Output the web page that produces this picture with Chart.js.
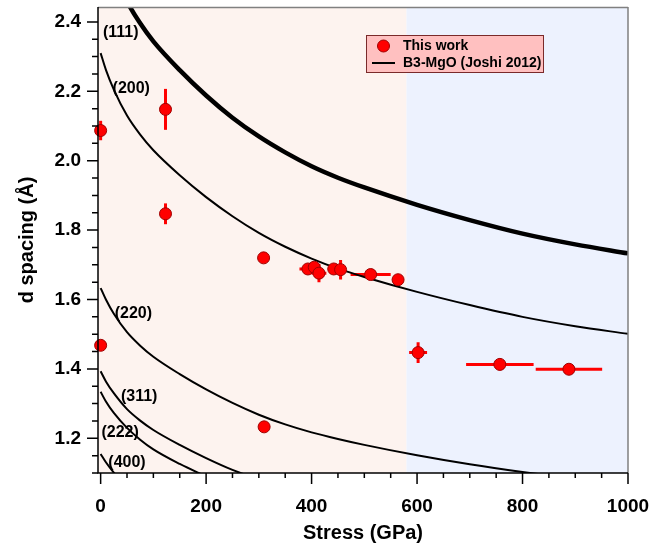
<!DOCTYPE html>
<html>
<head>
<meta charset="utf-8">
<script src="https://cdn.jsdelivr.net/npm/chart.js@4.4.1/dist/chart.umd.min.js"></script>
<style>
html, body { margin: 0; padding: 0; background: #fff; }
#wrap { width: 652px; height: 551px; }
</style>
</head>
<body>
<div id="wrap"><canvas id="chart" width="652" height="551"></canvas></div>
<script>
// this work: stress (GPa) vs d spacing (A), with error bars
var stress    = [0, 0, 123, 123, 309, 310, 393, 405, 414, 442, 455, 512, 564, 602, 757, 888];
var dSpacing  = [2.087, 1.468, 2.148, 1.847, 1.720, 1.233, 1.688, 1.693, 1.676, 1.688, 1.686, 1.672, 1.657, 1.447, 1.413, 1.399];
var stressErr = [0, 0, 0, 0, 0, 0, 16, 5, 14, 10, 8, 38, 0, 17, 64, 63];
var dErr      = [0.028, 0.008, 0.059, 0.03, 0, 0.008, 0, 0, 0.026, 0, 0.028, 0, 0, 0.03, 0.017, 0.01];

// B3-MgO (Joshi 2012) curves
var curveP = [0, 10, 25, 50, 75, 100, 150, 200, 250, 300, 350, 400, 450, 500, 600, 700, 800, 900, 1000];
var d111 = [2.667, 2.612, 2.546, 2.459, 2.396, 2.344, 2.261, 2.188, 2.124, 2.070, 2.024, 1.984, 1.951, 1.923, 1.873, 1.829, 1.790, 1.759, 1.733];
var d200 = [2.310, 2.262, 2.205, 2.130, 2.075, 2.030, 1.958, 1.895, 1.840, 1.792, 1.752, 1.718, 1.689, 1.665, 1.622, 1.584, 1.550, 1.523, 1.501];
var d220 = [1.633, 1.600, 1.559, 1.506, 1.467, 1.435, 1.385, 1.341, 1.302, 1.268, 1.240, 1.217, 1.198, 1.181, 1.151, 1.125, 1.103, 1.084, 1.067];
var d311 = [1.393, 1.364, 1.330, 1.284, 1.251, 1.224, 1.181, 1.143, 1.109, 1.081];
var d222 = [1.334, 1.306, 1.273, 1.230, 1.196, 1.168, 1.126, 1.090];
var d400 = [1.155, 1.131, 1.101, 1.062];

var curveNames = ["(111)", "(200)", "(220)", "(311)", "(222)", "(400)"];
// where each label sits, in data units (stress, d)
var labelP = [38, 58, 62, 73, 37, 50];
var labelD = [2.370, 2.209, 1.558, 1.321, 1.217, 1.130];

var xTicks = [0, 200, 400, 600, 800, 1000];
var yTicks = [1.2, 1.4, 1.6, 1.8, 2.0, 2.2, 2.4];
var phaseSplit = 580; // GPa, where the shading changes

var FONT = '"Liberation Sans", Arial, Helvetica, sans-serif';

function pts(xs, ys) {
    var out = [];
    for (var i = 0; i < ys.length; i++) out.push({x: xs[i], y: ys[i]});
    return out;
}

function curve(ys, w) {
    return {
        type: 'line',
        data: pts(curveP, ys),
        borderColor: '#000',
        borderWidth: w,
        pointRadius: 0,
        fill: false,
        cubicInterpolationMode: 'monotone',
        clip: 0
    };
}

var extras = {
    id: 'extras',
    beforeDraw: function(chart) {
        var a = chart.chartArea, ctx = chart.ctx;
        var xs = chart.scales.x.getPixelForValue(phaseSplit);
        ctx.save();
        ctx.fillStyle = '#fdf3ef';
        ctx.fillRect(a.left, a.top, xs - a.left, a.bottom - a.top);
        ctx.fillStyle = '#edf2fe';
        ctx.fillRect(xs, a.top, a.right - xs, a.bottom - a.top);
        ctx.restore();
    },
    beforeDatasetsDraw: function(chart) {
        // error bars
        var ctx = chart.ctx, sx = chart.scales.x, sy = chart.scales.y;
        ctx.save();
        ctx.strokeStyle = '#ff0000';
        ctx.lineWidth = 3;
        for (var i = 0; i < stress.length; i++) {
            var px = sx.getPixelForValue(stress[i]);
            var py = sy.getPixelForValue(dSpacing[i]);
            ctx.beginPath();
            if (stressErr[i] > 0) {
                ctx.moveTo(sx.getPixelForValue(stress[i] - stressErr[i]), py);
                ctx.lineTo(sx.getPixelForValue(stress[i] + stressErr[i]), py);
            }
            if (dErr[i] > 0) {
                ctx.moveTo(px, sy.getPixelForValue(dSpacing[i] - dErr[i]));
                ctx.lineTo(px, sy.getPixelForValue(dSpacing[i] + dErr[i]));
            }
            ctx.stroke();
        }
        ctx.restore();
    },
    afterDraw: function(chart) {
        var a = chart.chartArea, ctx = chart.ctx, sx = chart.scales.x, sy = chart.scales.y;
        ctx.save();
        // frame
        ctx.strokeStyle = '#808080';
        ctx.lineWidth = 1.5;
        ctx.beginPath();
        ctx.moveTo(a.left, a.top + 0.5); ctx.lineTo(a.right, a.top + 0.5);
        ctx.moveTo(a.right, a.top); ctx.lineTo(a.right, a.bottom);
        ctx.stroke();
        ctx.strokeStyle = '#000';
        ctx.beginPath();
        ctx.moveTo(a.left, a.top); ctx.lineTo(a.left, a.bottom);
        ctx.lineTo(a.right, a.bottom);
        ctx.stroke();

        // tick marks, outward
        ctx.lineWidth = 1.5;
        ctx.beginPath();
        var v, p, major;
        for (v = 0; v <= 1000; v += 50) {
            p = sx.getPixelForValue(v);
            major = v % 200 === 0;
            ctx.moveTo(p, a.bottom);
            ctx.lineTo(p, a.bottom + (major ? 11 : 5));
        }
        for (var k = 22; k <= 48; k++) {
            v = k * 0.05;
            p = sy.getPixelForValue(v);
            major = k % 4 === 0;
            ctx.moveTo(a.left, p);
            ctx.lineTo(a.left - (major ? 11 : 6), p);
        }
        ctx.stroke();

        // curve labels
        ctx.fillStyle = '#000';
        ctx.font = 'bold 16px ' + FONT;
        ctx.textAlign = 'center';
        ctx.textBaseline = 'middle';
        for (var j = 0; j < curveNames.length; j++) {
            ctx.fillText(curveNames[j], sx.getPixelForValue(labelP[j]), sy.getPixelForValue(labelD[j]));
        }

        // legend box
        ctx.fillStyle = '#ffc0c0';
        ctx.fillRect(366.5, 35.5, 177, 37);
        ctx.strokeStyle = '#7a2a2a';
        ctx.lineWidth = 1;
        ctx.strokeRect(366.5, 35.5, 177, 37);
        ctx.beginPath();
        ctx.arc(383.5, 46, 6, 0, Math.PI * 2);
        ctx.fillStyle = '#ff0000';
        ctx.fill();
        ctx.strokeStyle = '#a00000';
        ctx.stroke();
        ctx.strokeStyle = '#000';
        ctx.lineWidth = 2;
        ctx.beginPath();
        ctx.moveTo(372, 63); ctx.lineTo(395, 63);
        ctx.stroke();
        ctx.fillStyle = '#000';
        ctx.font = 'bold 14px ' + FONT;
        ctx.textAlign = 'left';
        ctx.fillText('This work', 403, 46.5);
        ctx.fillText('B3-MgO (Joshi 2012)', 403, 63.5);
        ctx.restore();
    }
};

var ctx = document.getElementById('chart');
var chart = new Chart(ctx, {
    type: 'scatter',
    data: {
        datasets: [
            {
                label: 'This work',
                data: pts(stress, dSpacing),
                backgroundColor: '#ff0000',
                borderColor: '#a00000',
                borderWidth: 1,
                pointRadius: 6,
                clip: false
            },
            curve(d111, 4.5),
            curve(d200, 2),
            curve(d220, 2),
            curve(d311, 2),
            curve(d222, 2),
            curve(d400, 2)
        ]
    },
    options: {
        responsive: false,
        animation: false,
        devicePixelRatio: 1,
        layout: { padding: { left: 0, right: 24, top: 1, bottom: 0 } },
        plugins: {
            legend: { display: false },
            tooltip: { enabled: false }
        },
        scales: {
            x: {
                type: 'linear',
                min: -5,
                max: 1000,
                grid: { display: false },
                border: { display: false },
                afterBuildTicks: function(s) { s.ticks = xTicks.map(function(v) { return {value: v}; }); },
                afterFit: function(s) { s.height = 78; s.paddingLeft = 0; s.paddingRight = 0; },
                ticks: {
                    padding: 14,
                    maxRotation: 0,
                    color: '#000',
                    font: { family: FONT, size: 19, weight: 'bold' },
                    callback: function(v) { return String(v); }
                },
                title: {
                    display: true,
                    text: 'Stress (GPa)',
                    color: '#000',
                    font: { family: FONT, size: 20, weight: 'bold' },
                    padding: { top: 0, bottom: 6 }
                }
            },
            y: {
                type: 'linear',
                min: 1.1,
                max: 2.443,
                grid: { display: false },
                border: { display: false },
                afterBuildTicks: function(s) { s.ticks = yTicks.map(function(v) { return {value: v}; }); },
                afterFit: function(s) { s.width = 98; s.paddingTop = 0; s.paddingBottom = 0; },
                ticks: {
                    padding: 9,
                    color: '#000',
                    font: { family: FONT, size: 19, weight: 'bold' },
                    callback: function(v) { return Number(v).toFixed(1); }
                },
                title: {
                    display: true,
                    text: 'd spacing (Å)',
                    color: '#000',
                    font: { family: FONT, size: 20, weight: 'bold' },
                    padding: { top: 15, bottom: 0 }
                }
            }
        }
    },
    plugins: [extras]
});
</script>
</body>
</html>
